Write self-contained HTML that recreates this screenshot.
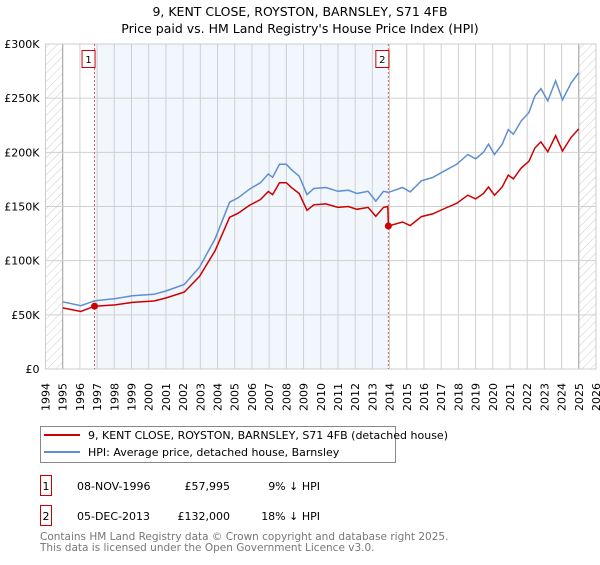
<!DOCTYPE html>
<html><head><meta charset="utf-8"><style>
body{margin:0;background:#fff;font-family:"Liberation Sans","DejaVu Sans",sans-serif;}
svg text{font-family:"DejaVu Sans","Liberation Sans",sans-serif;}
</style></head><body>
<svg id="c" width="600" height="560" viewBox="0 0 600 560" xmlns="http://www.w3.org/2000/svg">
<defs><pattern id="hatch" width="6" height="6" patternUnits="userSpaceOnUse" patternTransform="rotate(45)"><line x1="0" y1="0" x2="0" y2="6" stroke="#ccc" stroke-width="1"/></pattern></defs>
<text x="300" y="16" text-anchor="middle" font-size="12.5" fill="#000">9, KENT CLOSE, ROYSTON, BARNSLEY, S71 4FB</text>
<text x="300" y="33" text-anchor="middle" font-size="12.5" fill="#000">Price paid vs. HM Land Registry's House Price Index (HPI)</text>
<g id="plot"></g>
<g>
<rect x="40.5" y="426.5" width="355" height="36" fill="#fff" stroke="#888"/>
<line x1="44" y1="435" x2="80" y2="435" stroke="#cc0000" stroke-width="2"/>
<text x="88" y="439" font-size="11">9, KENT CLOSE, ROYSTON, BARNSLEY, S71 4FB (detached house)</text>
<line x1="44" y1="452" x2="80" y2="452" stroke="#5f8fd0" stroke-width="2"/>
<text x="88" y="456" font-size="11">HPI: Average price, detached house, Barnsley</text>
</g>
<g font-size="11">
<rect x="40.5" y="475.5" width="11" height="20" fill="#fff" stroke="#cc0000"/>
<text x="46" y="490" text-anchor="middle">1</text>
<text x="77" y="490">08-NOV-1996</text>
<text x="230" y="490" text-anchor="end">£57,995</text>
<text x="320" y="490" text-anchor="end">9% ↓ HPI</text>
<rect x="40.5" y="505.5" width="11" height="20" fill="#fff" stroke="#cc0000"/>
<text x="46" y="520" text-anchor="middle">2</text>
<text x="77" y="520">05-DEC-2013</text>
<text x="230" y="520" text-anchor="end">£132,000</text>
<text x="320" y="520" text-anchor="end">18% ↓ HPI</text>
</g>
<text x="40" y="540" font-size="10.5" fill="#777">Contains HM Land Registry data © Crown copyright and database right 2025.</text>
<text x="40" y="551" font-size="10.5" fill="#777">This data is licensed under the Open Government Licence v3.0.</text>
</svg>
<script>
const hpiYears=[1995,1996.05,1996.85,1998.05,1999.05,2000.3,2001,2002.06,2002.95,2003.85,2004.7,2005.2,2005.85,2006.5,2006.95,2007.2,2007.6,2008,2008.3,2008.75,2009.2,2009.6,2010.3,2011,2011.6,2012.1,2012.75,2013.2,2013.65,2013.93,2014.75,2015.2,2015.85,2016.5,2017.2,2017.9,2018.55,2019,2019.45,2019.75,2020.1,2020.55,2020.9,2021.2,2021.65,2022.1,2022.45,2022.8,2023.2,2023.65,2024.05,2024.55,2025];
const hpiValues=[62,58.4,63,65,67.6,69,72,78,94,120,154,158,166,172,180,177,189,189,184,178,161,166.6,167.5,164,165,162,164,155,164,163,167.5,163.5,173.7,176.8,183,189,198,194,199.8,207.5,198,207.5,221,216.7,229,236.7,252,258.8,247.5,265.9,248.4,264,273.6];
const priceYears=[1995,1996.05,1996.85,1998.05,1999.05,2000.3,2001,2002.06,2002.95,2003.85,2004.7,2005.2,2005.85,2006.5,2006.95,2007.2,2007.6,2008,2008.3,2008.75,2009.2,2009.6,2010.3,2011,2011.6,2012.1,2012.75,2013.2,2013.65,2013.9,2013.93,2014.75,2015.2,2015.85,2016.5,2017.2,2017.9,2018.55,2019,2019.45,2019.75,2020.1,2020.55,2020.9,2021.2,2021.65,2022.1,2022.45,2022.8,2023.2,2023.65,2024.05,2024.55,2025];
const priceValues=[56.4,53.1,58,59.2,61.5,62.8,65.5,71,85.5,109,140,143.8,151,156.5,163.8,161,172,172,167.4,162,146.5,151.6,152.4,149.2,150,147.4,149.2,141,149.2,150,132,135.7,132.4,140.7,143.2,148.2,153,160.4,157,161.8,168,160.4,168,179,175.5,185.5,191.7,204,209.6,200.5,215.4,201.2,213.8,221.6];
const saleYears=[1996.85,2013.93];
const saleValues=[58,132];
const saleLabels=["1","2"];
const yTicks=[0,50,100,150,200,250,300];
const yTickLabels=["£0","£50K","£100K","£150K","£200K","£250K","£300K"];
const xTicks=[1994,1995,1996,1997,1998,1999,2000,2001,2002,2003,2004,2005,2006,2007,2008,2009,2010,2011,2012,2013,2014,2015,2016,2017,2018,2019,2020,2021,2022,2023,2024,2025,2026];

const NS="http://www.w3.org/2000/svg";
const X0=45.5,X1=596,Y0=369,Y1=44;
const xs=y=>X0+(y-1994)/(2026-1994)*(X1-X0);
const ys=v=>Y0-v/300*(Y0-Y1);
const plot=document.getElementById('plot');
function mk(tag,attrs){const e=document.createElementNS(NS,tag);for(const k in attrs)e.setAttribute(k,attrs[k]);plot.appendChild(e);return e;}
let e;
e=mk('rect',{x:xs(saleYears[0]),y:Y1,width:xs(saleYears[1])-xs(saleYears[0]),height:Y0-Y1,fill:'#f2f6fd'});


e=mk('rect',{x:X0,y:Y1,width:xs(1995)-X0,height:Y0-Y1,fill:'url(#hatch)'});


e=mk('rect',{x:xs(2025),y:Y1,width:X1-xs(2025),height:Y0-Y1,fill:'url(#hatch)'});


xTicks.forEach((t,i)=>{
  const g=mk('line',{x1:xs(t),x2:xs(t),y1:Y1,y2:Y0,stroke:(t==1995||t==2025)?'#999':'#d0d0d0','stroke-width':1});
  
  
  const tx=mk('text',{x:0,y:0,'font-size':11,'text-anchor':'end',transform:`translate(${xs(t)+4},${Y0+14}) rotate(-90)`});
  tx.textContent=String(t);
  
  
});
yTicks.forEach((t,i)=>{
  const g=mk('line',{x1:X0,x2:X1,y1:ys(t),y2:ys(t),stroke:'#d0d0d0','stroke-width':1});
  
  
  const tx=mk('text',{x:X0-6,y:ys(t)+4,'font-size':11,'text-anchor':'end'});
  tx.textContent=yTickLabels[i];
  
  
});
e=mk('rect',{x:X0,y:Y1,width:X1-X0,height:Y0-Y1,fill:'none',stroke:'#ccc'});


saleYears.forEach((s,i)=>{
  const l=mk('line',{x1:xs(s),x2:xs(s),y1:Y1,y2:Y0,stroke:'#e06060','stroke-width':1,'stroke-dasharray':'2,2'});
  
  
  const r=mk('rect',{x:xs(s)-12.5,y:50.5,width:13,height:17,fill:'#fff',stroke:'#cc0000'});
  
  
  const t=mk('text',{x:xs(s)-6,y:63,'font-size':10,'text-anchor':'middle'});
  t.textContent=saleLabels[i];
  
  
});
function path(yrs,vals){return yrs.map((y,i)=>(i?'L':'M')+xs(y).toFixed(1)+','+ys(vals[i]).toFixed(1)).join('');}
e=mk('path',{d:path(hpiYears,hpiValues),fill:'none',stroke:'#5f8fd0','stroke-width':1.5});


e=mk('path',{d:path(priceYears,priceValues),fill:'none',stroke:'#cc0000','stroke-width':1.5});


saleYears.forEach((s,i)=>{
  const c=mk('circle',{cx:xs(s),cy:ys(saleValues[i]),r:3.5,fill:'#cc0000'});
  
  
});
</script>
</body></html>
